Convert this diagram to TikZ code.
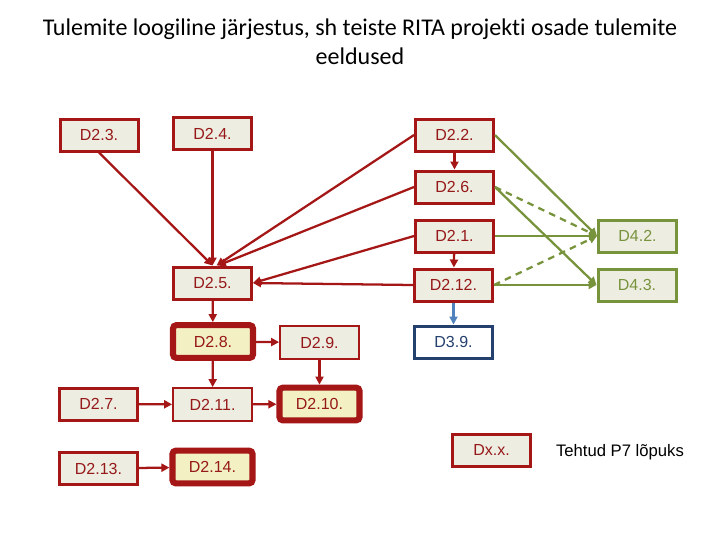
\documentclass[tikz,border=0pt]{standalone}
\usepackage{fontspec}
\setmainfont{Liberation Sans}
\newfontfamily\titlefont[Ligatures=NoCommon]{Carlito}
\usetikzlibrary{arrows.meta}
\definecolor{redc}{RGB}{165,22,22}
\definecolor{redt}{RGB}{150,25,25}
\definecolor{beige}{RGB}{238,237,226}
\definecolor{yel}{RGB}{243,241,196}
\definecolor{grn}{RGB}{119,147,60}
\definecolor{blu}{RGB}{36,64,110}
\definecolor{blua}{RGB}{79,129,189}
\tikzset{
  box/.style={draw=redc, line width=2.25pt, fill=beige, text=redt, inner sep=0pt,
    minimum width=58.5pt, minimum height=24pt, font=\fontsize{12}{14}\selectfont},
  thin/.style={box, line width=1.6pt, minimum width=59pt, minimum height=24.5pt},
  thick/.style={box, line width=4.6pt, fill=yel, rounded corners=2.5pt, minimum width=60pt, minimum height=24.5pt},
  gbox/.style={box, draw=grn, text=grn},
  bbox/.style={box, draw=blu, fill=white, text=blu},
  rarr/.style={draw=redc, line width=1.7pt, -{Triangle[length=6pt,width=6pt]}},
  garr/.style={draw=grn, line width=1.7pt, -{Triangle[length=6pt,width=6pt]}},
  gdash/.style={garr, dash pattern=on 5pt off 4pt},
  barr/.style={draw=blua, line width=1.7pt, -{Triangle[length=6pt,width=6pt]}},
}
\begin{document}
\begin{tikzpicture}[x=0.75pt,y=-0.75pt]
\path[use as bounding box] (0,0) rectangle (720,540);
\node[align=center, font=\titlefont\fontsize{18}{21.75}\selectfont] (title) at (360,42)
  {Tulemite loogiline järjestus, sh teiste RITA projekti osade tulemite\\eeldused};
% red column
\node[box] (d23) at (99,135) {D2.3.};
\node[box] (d24) at (212.5,133.5) {D2.4.};
\node[box] (d25) at (212.5,283) {D2.5.};
\node[box] (d22) at (454.5,135) {D2.2.};
\node[box] (d26) at (454.5,187) {D2.6.};
\node[box] (d21) at (454.5,236) {D2.1.};
\node[box] (d212) at (453.5,285) {D2.12.};
\node[gbox] (d42) at (637.5,236) {D4.2.};
\node[gbox] (d43) at (637,285) {D4.3.};
\node[bbox] (d39) at (453.5,342) {D3.9.};
\node[thick] (d28) at (213,341.5) {D2.8.};
\node[thin] (d29) at (319.5,342.5) {D2.9.};
\node[thin] (d211) at (212.5,404.5) {D2.11.};
\node[thick] (d210) at (319.5,404) {D2.10.};
\node[thick] (d214) at (212.5,467) {D2.14.};
\node[box] (d27) at (98.5,404) {D2.7.};
\node[box] (d213) at (98.5,468.5) {D2.13.};
\node[box] (dxx) at (491.5,450) {Dx.x.};
\node[font=\fontsize{12.5}{14}\selectfont] (legend) at (620,452) {Tehtud P7 lõpuks};
% red connectors
\draw[rarr] (d23.south) -- (d25.north);
\draw[rarr] (d24) -- (d25);
\draw[rarr] (d22.west) -- ([xshift=3pt]d25.north);
\draw[rarr] (d26.west) -- ([xshift=4pt]d25.north);
\draw[rarr] (d21.west) -- (d25.east);
\draw[rarr] (d212.west) -- (d25.east);
\draw[rarr] (d22) -- (d26);
\draw[rarr] (d21) -- (d212);
\draw[rarr] (d25) -- (d28);
\draw[rarr] (d28) -- (d29);
\draw[rarr] (d28) -- (d211);
\draw[rarr] (d29) -- (d210);
\draw[rarr] (d211) -- (d210);
\draw[rarr] (d27) -- (d211);
\draw[rarr] (d213) -- (d214);
\draw[barr] (d212) -- (d39);
% green connectors
\draw[garr] (d22.east) -- (d42.west);
\draw[garr] (d26.east) -- (d43.west);
\draw[garr] (d21.east) -- (d42.west);
\draw[garr] (d212.east) -- (d43.west);
\draw[gdash] (d26.east) -- (d42.west);
\draw[gdash] (d212.east) -- (d42.west);
\end{tikzpicture}
\end{document}
